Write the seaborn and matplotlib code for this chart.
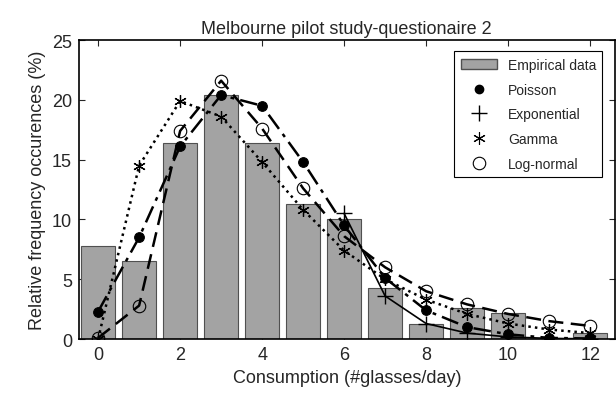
import numpy as np
import pandas as pd
import seaborn as sns
import matplotlib
matplotlib.use("Agg")
import matplotlib.pyplot as plt
from matplotlib.patches import Patch
from matplotlib.lines import Line2D

# glasses per day
glasses = list(range(13))
empirical = [7.8, 6.5, 16.4, 20.4, 16.4, 11.3, 10.0, 4.3, 1.25, 2.6, 2.2, 0.0, 0.5]
poisson = [2.3, 8.5, 16.1, 20.4, 19.5, 14.8, 9.5, 5.1, 2.4, 1.0, 0.4, 0.1, 0.05]
lognormal = [0.1, 2.8, 17.4, 21.6, 17.6, 12.6, 8.6, 6.0, 4.0, 2.9, 2.1, 1.5, 1.1]
gamma = [0.0, 14.5, 19.9, 18.6, 14.8, 10.8, 7.4, 5.0, 3.3, 2.1, 1.3, 0.8, 0.5]
exp_x = [6, 7, 8, 9, 10, 11, 12]
exponential = [10.5, 3.6, 1.3, 0.5, 0.18, 0.06, 0.02]

sns.set_theme(style="ticks")
plt.rcParams['font.family'] = ['Liberation Sans', 'DejaVu Sans']

asterisk = (6, 2, 0)

fig = plt.figure(figsize=(6.16, 4.02), dpi=100)
ax = fig.add_axes([0.128, 0.154, 0.87, 0.744])

df = pd.DataFrame({"x": glasses, "y": empirical})
sns.barplot(data=df, x="x", y="y", native_scale=True, width=0.83,
            color="#a3a3a3", saturation=1, edgecolor="#505050", linewidth=0.8, ax=ax)

sns.lineplot(x=glasses, y=poisson, color="black", lw=1.8, ls=(0, (7, 2.5, 1.5, 2.5)), marker="o",
             markersize=7, markeredgecolor="black", ax=ax)
sns.lineplot(x=exp_x, y=exponential, color="black", lw=1.2, ls="-", marker="+",
             markersize=11, markeredgecolor="black", markeredgewidth=1, ax=ax)
sns.lineplot(x=glasses, y=gamma, color="black", lw=1.8, ls=":", marker=asterisk,
             markersize=9, markeredgecolor="black", markeredgewidth=0.9, ax=ax)
sns.lineplot(x=glasses, y=lognormal, color="black", lw=1.8, ls=(0, (6, 3)), marker="o",
             markersize=9, markerfacecolor="none", markeredgecolor="black",
             markeredgewidth=0.8, ax=ax)

ax.set_xlim(-0.47, 12.6)
ax.set_ylim(0, 25)
ax.set_xticks(range(0, 13, 2))
ax.set_yticks(range(0, 26, 5))
ax.tick_params(direction="in", top=True, right=True, labelsize=13, length=4, width=0.8, pad=5)
for s in ax.spines.values():
    s.set_linewidth(1.2)
    s.set_color("black")
ax.set_xlabel("Consumption (#glasses/day)", fontsize=13)
ax.set_ylabel("Relative frequency occurences (%)", fontsize=13)
ax.set_title("Melbourne pilot study-questionaire 2", fontsize=13, pad=5)

handles = [
    Patch(facecolor="#a3a3a3", edgecolor="#505050"),
    Line2D([], [], ls="none", marker="o", color="black", markersize=6),
    Line2D([], [], ls="none", marker="+", color="black", markersize=11),
    Line2D([], [], ls="none", marker=asterisk, color="black", markersize=9, markeredgewidth=0.8),
    Line2D([], [], ls="none", marker="o", markerfacecolor="none", markeredgecolor="black", markersize=9, markeredgewidth=0.8),
]
labels = ["Empirical data", "Poisson", "Exponential", "Gamma", "Log-normal"]
leg = ax.legend(handles, labels, loc="upper right", fontsize=10, frameon=True, fancybox=False,
                edgecolor="black", framealpha=1, borderpad=0.45, handlelength=2.6,
                labelspacing=0.78, bbox_to_anchor=(0.99, 0.985))
leg.get_frame().set_linewidth(0.8)

fig.savefig("out.png", dpi=100)
